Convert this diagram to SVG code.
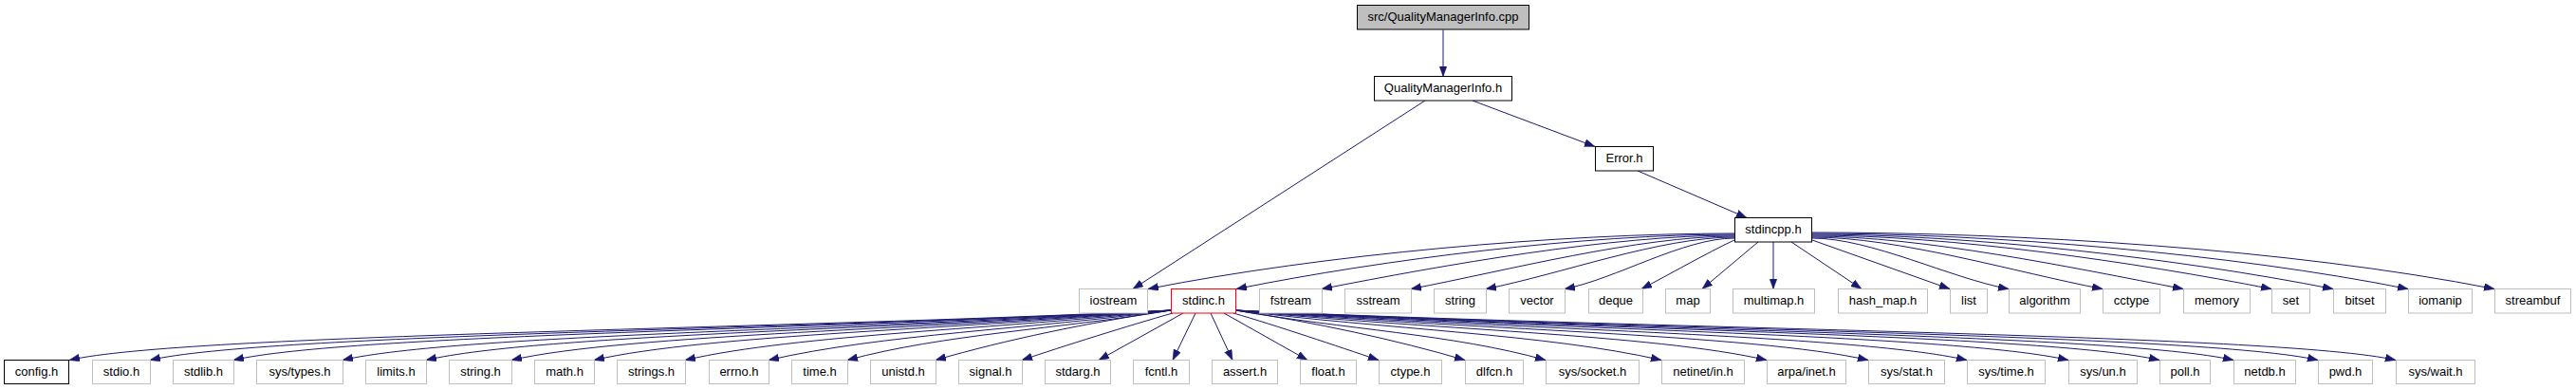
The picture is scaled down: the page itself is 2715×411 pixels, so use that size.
<svg xmlns="http://www.w3.org/2000/svg" width="2715" height="411" viewBox="0 0 2715 411">
<style>
text{font-family:"Liberation Sans",Arial,sans-serif;font-size:13px;fill:#000;text-anchor:middle}
.x{fill:#fff;stroke:#bfbfbf;stroke-width:1}
.d{fill:#fff;stroke:#000;stroke-width:1}
.r{fill:#fff;stroke:#ff0000;stroke-width:1}
.t{fill:#bfbfbf;stroke:#000;stroke-width:1}
.e{fill:none;stroke:#191970;stroke-width:1;marker-end:url(#ah)}
</style>
<defs>
<marker id="ah" markerUnits="userSpaceOnUse" markerWidth="12" markerHeight="10" refX="11" refY="4" orient="auto"><path d="M0,0 L11,4 L0,8 z" fill="#191970" stroke="#191970" stroke-width="0.5"/></marker>
</defs>
<rect width="2715" height="411" fill="#fff"/>
<g id="edges">
<path class="e" d="M1521,31.5 L1521,80.5"/>
<path class="e" d="M1552,106 L1681,154.5"/>
<path class="e" d="M1502,106 L1194,304.5"/>
<path class="e" d="M1726,180 L1841,229.5"/>
<path class="e" d="M1828,246 C1643,246 1395,268 1210,304.5"/>
<path class="e" d="M1828,247 C1670,247 1460,273 1303,304.5"/>
<path class="e" d="M1828,248 C1698,248 1523,279 1393,304.5"/>
<path class="e" d="M1828,249 C1726,249 1589,285 1487,304.5"/>
<path class="e" d="M1828,250 C1749,250 1645,289 1566,304.5"/>
<path class="e" d="M1828,251 C1774,251 1703,294 1649,304.5"/>
<path class="e" d="M1828,253 C1800,266 1758,290 1730,304.5"/>
<path class="e" d="M1853,255 L1794,304.5"/>
<path class="e" d="M1869,255 L1869,304.5"/>
<path class="e" d="M1888,255 L1962,304.5"/>
<path class="e" d="M1910,253 L2055,304.5"/>
<path class="e" d="M1910,251 C1972,251 2055,293 2117,304.5"/>
<path class="e" d="M1910,250 C2002,250 2124,287 2216,304.5"/>
<path class="e" d="M1910,249 C2027,249 2184,282 2301,304.5"/>
<path class="e" d="M1910,248 C2055,248 2249,276 2394,304.5"/>
<path class="e" d="M1910,247 C2075,247 2294,272 2459,304.5"/>
<path class="e" d="M1910,246 C2098,246 2350,267 2538,304.5"/>
<path class="e" d="M1910,245 C2126,245 2413,262 2629,304.5"/>
<path class="e" d="M1234,327 C828,347 193,352 73,379.5"/>
<path class="e" d="M1234,327 C857,347 278,352 158,379.5"/>
<path class="e" d="M1234,327 C888,347 366,352 246,379.5"/>
<path class="e" d="M1234,327 C928,347 481,352 361,379.5"/>
<path class="e" d="M1234,327 C959,347 569,352 449,379.5"/>
<path class="e" d="M1234,327 C991,347 659,352 539,379.5"/>
<path class="e" d="M1234,327 C1021,347 746,352 626,379.5"/>
<path class="e" d="M1234,327 C1055,347 842,352 722,379.5"/>
<path class="e" d="M1234,327 C1086,347 930,352 810,379.5"/>
<path class="e" d="M1234,327 C1115,347 995,352 893,379.5"/>
<path class="e" d="M1234,327 C1147,340 1060,358 986,379.5"/>
<path class="e" d="M1236,330 C1190,343 1120,365 1077,379.5"/>
<path class="e" d="M1247,330 L1158,379.5"/>
<path class="e" d="M1260,330 L1236,379.5"/>
<path class="e" d="M1276,330 L1299,379.5"/>
<path class="e" d="M1290,330 L1378,379.5"/>
<path class="e" d="M1300,330 C1345,343 1410,365 1453,379.5"/>
<path class="e" d="M1302,327 C1387,340 1471,358 1544,379.5"/>
<path class="e" d="M1302,327 C1416,347 1531,352 1629,379.5"/>
<path class="e" d="M1302,327 C1459,347 1631,352 1751,379.5"/>
<path class="e" d="M1302,327 C1498,347 1742,352 1862,379.5"/>
<path class="e" d="M1302,327 C1535,347 1849,352 1969,379.5"/>
<path class="e" d="M1302,327 C1572,347 1953,352 2073,379.5"/>
<path class="e" d="M1302,327 C1609,347 2060,352 2180,379.5"/>
<path class="e" d="M1302,327 C1643,347 2156,352 2276,379.5"/>
<path class="e" d="M1302,327 C1670,347 2234,352 2354,379.5"/>
<path class="e" d="M1302,327 C1701,347 2323,352 2443,379.5"/>
<path class="e" d="M1302,327 C1730,347 2405,352 2525,379.5"/>
</g>
<g id="n_top"><rect class="t" x="1430.5" y="5.5" width="181" height="25.5"/><text x="1521" y="22">src/QualityManagerInfo.cpp</text></g>
<g id="n_qmi"><rect class="d" x="1448.5" y="80.5" width="145" height="25.5"/><text x="1521" y="97">QualityManagerInfo.h</text></g>
<g id="n_error"><rect class="d" x="1681.5" y="154.5" width="61" height="25.5"/><text x="1712" y="171">Error.h</text></g>
<g id="n_stdincpp"><rect class="d" x="1828.5" y="229.5" width="81" height="25.5"/><text x="1869" y="246">stdincpp.h</text></g>
<g id="n_iostream"><rect class="x" x="1137.5" y="304.5" width="72" height="25.5"/><text x="1173.5" y="321">iostream</text></g>
<g id="n_stdinc"><rect class="r" x="1234.5" y="304.5" width="68" height="25.5"/><text x="1268.5" y="321">stdinc.h</text></g>
<g id="n_fstream"><rect class="x" x="1327.5" y="304.5" width="66" height="25.5"/><text x="1360.5" y="321">fstream</text></g>
<g id="n_sstream"><rect class="x" x="1417.5" y="304.5" width="70" height="25.5"/><text x="1452.5" y="321">sstream</text></g>
<g id="n_string"><rect class="x" x="1511.5" y="304.5" width="55" height="25.5"/><text x="1539" y="321">string</text></g>
<g id="n_vector"><rect class="x" x="1590.5" y="304.5" width="59" height="25.5"/><text x="1620" y="321">vector</text></g>
<g id="n_deque"><rect class="x" x="1674.5" y="304.5" width="57" height="25.5"/><text x="1703" y="321">deque</text></g>
<g id="n_map"><rect class="x" x="1755.5" y="304.5" width="47" height="25.5"/><text x="1779" y="321">map</text></g>
<g id="n_multimap"><rect class="x" x="1826.5" y="304.5" width="86" height="25.5"/><text x="1869.5" y="321">multimap.h</text></g>
<g id="n_hashmap"><rect class="x" x="1937.5" y="304.5" width="94" height="25.5"/><text x="1984.5" y="321">hash_map.h</text></g>
<g id="n_list"><rect class="x" x="2055.5" y="304.5" width="39" height="25.5"/><text x="2075" y="321">list</text></g>
<g id="n_algorithm"><rect class="x" x="2117.5" y="304.5" width="75" height="25.5"/><text x="2155" y="321">algorithm</text></g>
<g id="n_cctype"><rect class="x" x="2216.5" y="304.5" width="60" height="25.5"/><text x="2246.5" y="321">cctype</text></g>
<g id="n_memory"><rect class="x" x="2301.5" y="304.5" width="70" height="25.5"/><text x="2336.5" y="321">memory</text></g>
<g id="n_set"><rect class="x" x="2394.5" y="304.5" width="40" height="25.5"/><text x="2414.5" y="321">set</text></g>
<g id="n_bitset"><rect class="x" x="2459.5" y="304.5" width="55" height="25.5"/><text x="2487" y="321">bitset</text></g>
<g id="n_iomanip"><rect class="x" x="2538.5" y="304.5" width="67" height="25.5"/><text x="2572" y="321">iomanip</text></g>
<g id="n_streambuf"><rect class="x" x="2629.5" y="304.5" width="80" height="25.5"/><text x="2669.5" y="321">streambuf</text></g>
<g id="n_config"><rect class="d" x="4.5" y="379.5" width="68" height="25"/><text x="38.5" y="396">config.h</text></g>
<g id="n_stdio"><rect class="x" x="97.5" y="379.5" width="61" height="25"/><text x="128" y="396">stdio.h</text></g>
<g id="n_stdlib"><rect class="x" x="182.5" y="379.5" width="64" height="25"/><text x="214.5" y="396">stdlib.h</text></g>
<g id="n_systypes"><rect class="x" x="270.5" y="379.5" width="91" height="25"/><text x="316" y="396">sys/types.h</text></g>
<g id="n_limits"><rect class="x" x="385.5" y="379.5" width="64" height="25"/><text x="417.5" y="396">limits.h</text></g>
<g id="n_stringh"><rect class="x" x="473.5" y="379.5" width="66" height="25"/><text x="506.5" y="396">string.h</text></g>
<g id="n_math"><rect class="x" x="563.5" y="379.5" width="63" height="25"/><text x="595" y="396">math.h</text></g>
<g id="n_strings"><rect class="x" x="650.5" y="379.5" width="72" height="25"/><text x="686.5" y="396">strings.h</text></g>
<g id="n_errno"><rect class="x" x="747.5" y="379.5" width="63" height="25"/><text x="779" y="396">errno.h</text></g>
<g id="n_time"><rect class="x" x="834.5" y="379.5" width="59" height="25"/><text x="864" y="396">time.h</text></g>
<g id="n_unistd"><rect class="x" x="917.5" y="379.5" width="69" height="25"/><text x="952" y="396">unistd.h</text></g>
<g id="n_signal"><rect class="x" x="1010.5" y="379.5" width="67" height="25"/><text x="1044" y="396">signal.h</text></g>
<g id="n_stdarg"><rect class="x" x="1101.5" y="379.5" width="69" height="25"/><text x="1136" y="396">stdarg.h</text></g>
<g id="n_fcntl"><rect class="x" x="1194.5" y="379.5" width="59" height="25"/><text x="1224" y="396">fcntl.h</text></g>
<g id="n_assert"><rect class="x" x="1277.5" y="379.5" width="69" height="25"/><text x="1312" y="396">assert.h</text></g>
<g id="n_float"><rect class="x" x="1370.5" y="379.5" width="59" height="25"/><text x="1400" y="396">float.h</text></g>
<g id="n_ctype"><rect class="x" x="1453.5" y="379.5" width="66" height="25"/><text x="1486.5" y="396">ctype.h</text></g>
<g id="n_dlfcn"><rect class="x" x="1544.5" y="379.5" width="61" height="25"/><text x="1575" y="396">dlfcn.h</text></g>
<g id="n_syssocket"><rect class="x" x="1629.5" y="379.5" width="98" height="25"/><text x="1678.5" y="396">sys/socket.h</text></g>
<g id="n_netinet"><rect class="x" x="1751.5" y="379.5" width="87" height="25"/><text x="1795" y="396">netinet/in.h</text></g>
<g id="n_arpa"><rect class="x" x="1862.5" y="379.5" width="83" height="25"/><text x="1904" y="396">arpa/inet.h</text></g>
<g id="n_sysstat"><rect class="x" x="1969.5" y="379.5" width="80" height="25"/><text x="2009.5" y="396">sys/stat.h</text></g>
<g id="n_systime"><rect class="x" x="2073.5" y="379.5" width="82" height="25"/><text x="2114.5" y="396">sys/time.h</text></g>
<g id="n_sysun"><rect class="x" x="2180.5" y="379.5" width="72" height="25"/><text x="2216.5" y="396">sys/un.h</text></g>
<g id="n_poll"><rect class="x" x="2276.5" y="379.5" width="53" height="25"/><text x="2303" y="396">poll.h</text></g>
<g id="n_netdb"><rect class="x" x="2354.5" y="379.5" width="65" height="25"/><text x="2387" y="396">netdb.h</text></g>
<g id="n_pwd"><rect class="x" x="2443.5" y="379.5" width="57" height="25"/><text x="2472" y="396">pwd.h</text></g>
<g id="n_syswait"><rect class="x" x="2525.5" y="379.5" width="83" height="25"/><text x="2567" y="396">sys/wait.h</text></g>
</svg>
